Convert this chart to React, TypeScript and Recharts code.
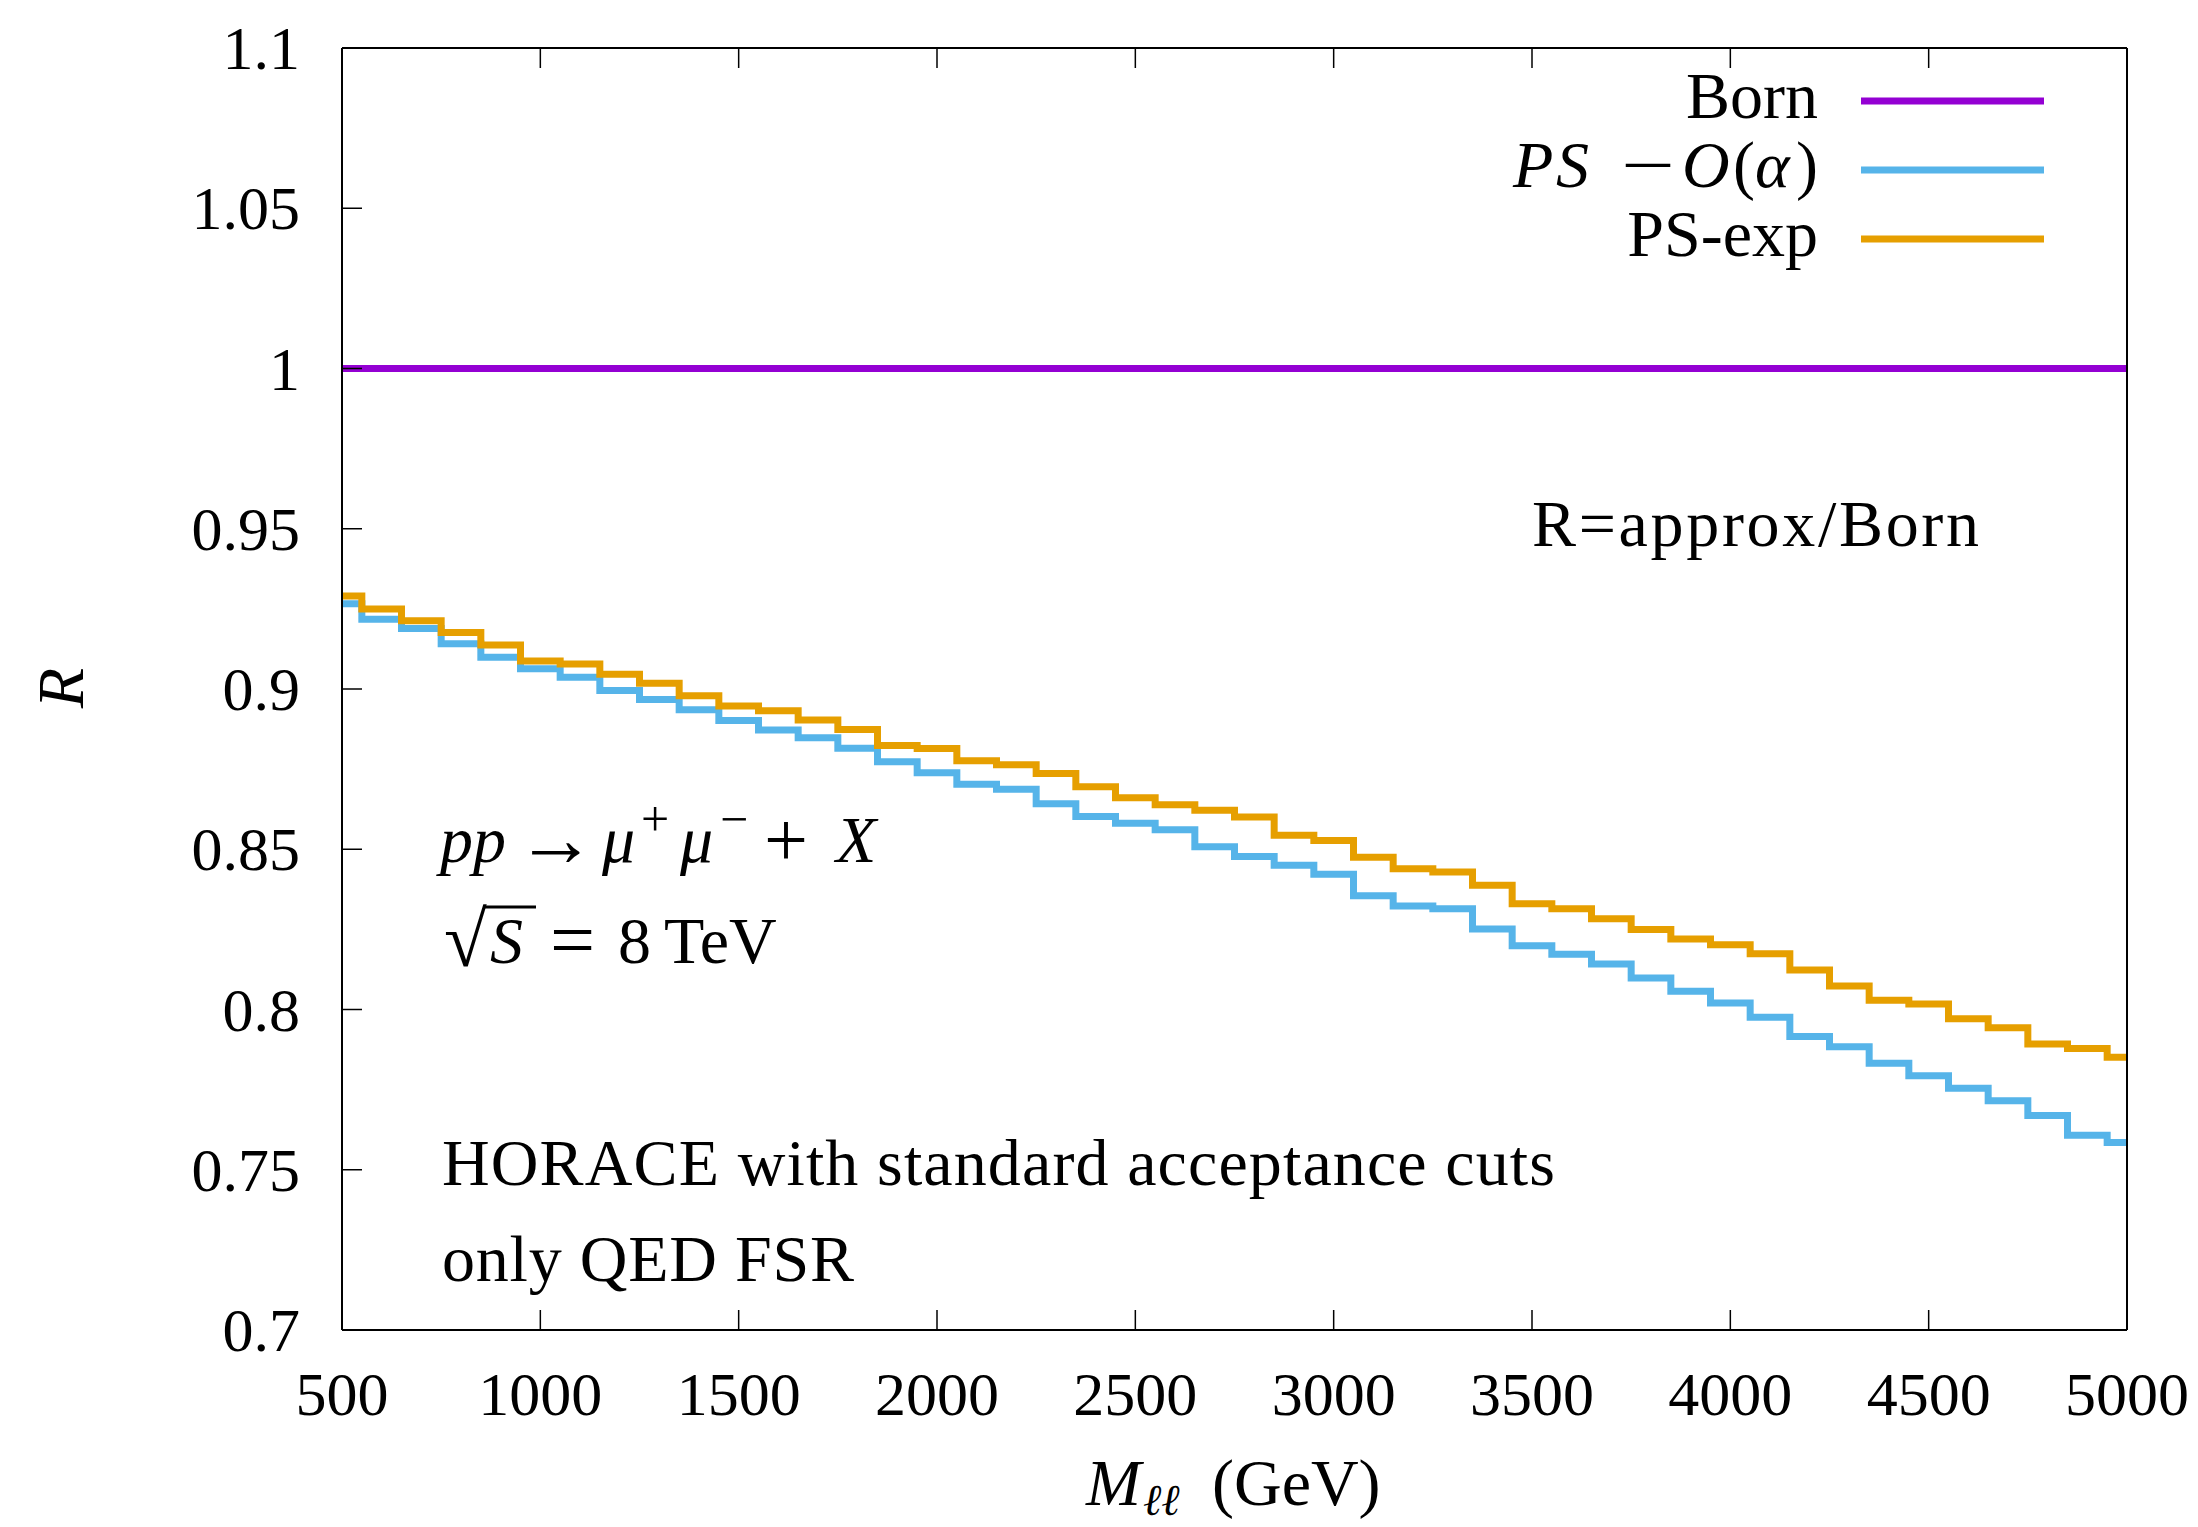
import React from "react";
import { LineChart, Line, XAxis, YAxis } from "recharts";

// invariant-mass bins (GeV), one point per bin centre
const masses = [
  500, 600, 700, 800, 900, 1000, 1100, 1200, 1300, 1400, 1500, 1600, 1700, 1800, 1900, 2000,
  2100, 2200, 2300, 2400, 2500, 2600, 2700, 2800, 2900, 3000, 3100, 3200, 3300, 3400, 3500,
  3600, 3700, 3800, 3900, 4000, 4100, 4200, 4300, 4400, 4500, 4600, 4700, 4800, 4900, 5000,
];

// R = approx/Born, PS - O(alpha)
const psAlpha = [
  0.9266, 0.9218, 0.9189, 0.9141, 0.9099, 0.9063, 0.9037, 0.8995, 0.8967, 0.8935, 0.8902,
  0.8872, 0.8848, 0.8815, 0.8773, 0.8739, 0.8703, 0.8687, 0.8642, 0.8602, 0.8581, 0.8561,
  0.8508, 0.8477, 0.845, 0.8422, 0.8355, 0.8323, 0.8314, 0.8251, 0.8199, 0.8172, 0.8142,
  0.8098, 0.8057, 0.802, 0.7976, 0.7916, 0.7884, 0.7832, 0.7793, 0.7754, 0.7715, 0.7669,
  0.7608, 0.7585,
];

// R = approx/Born, PS-exp
const psExp = [
  0.929, 0.925, 0.9213, 0.9176, 0.9137, 0.9087, 0.9078, 0.9046, 0.9018, 0.8979, 0.8947,
  0.8932, 0.8903, 0.8874, 0.8824, 0.8814, 0.8776, 0.8764, 0.8736, 0.8695, 0.8661, 0.8639,
  0.8622, 0.8601, 0.8544, 0.8527, 0.8475, 0.8439, 0.8429, 0.8388, 0.833, 0.8314, 0.8283,
  0.825, 0.822, 0.8202, 0.8174, 0.8123, 0.8073, 0.8029, 0.8017, 0.7971, 0.7943, 0.7892,
  0.7878, 0.7851,
];

const bornMass = [500, 5000];
const bornR = [1, 1];

const xTicks = [500, 1000, 1500, 2000, 2500, 3000, 3500, 4000, 4500, 5000];
const yTicks = [0.7, 0.75, 0.8, 0.85, 0.9, 0.95, 1, 1.05, 1.1];

const COLORS = { born: "#9400D3", psAlpha: "#56B4E9", psExp: "#E69F00" };
const FONT = "'Liberation Serif', 'Times New Roman', serif";
const FS = 62; // tick labels
const TS = 66; // annotations
const TICK = 20;

const data = masses.map((m, i) => ({ m, psAlpha: psAlpha[i], psExp: psExp[i] }));
const bornData = bornMass.map((m, i) => ({ m, born: bornR[i] }));

const LeftTick = (p: any) => (
  <g>
    <line x1={p.x} y1={p.y} x2={p.x + TICK} y2={p.y} stroke="#000" strokeWidth={1.5} />
    <text x={p.x - 42} y={p.y + 21} textAnchor="end" fontSize={FS} fontFamily={FONT} fill="#000">
      {String(p.payload.value)}
    </text>
  </g>
);
const RightTick = (p: any) => (
  <line x1={p.x - TICK} y1={p.y} x2={p.x} y2={p.y} stroke="#000" strokeWidth={1.5} />
);
const BottomTick = (p: any) => (
  <g>
    <line x1={p.x} y1={p.y} x2={p.x} y2={p.y - TICK} stroke="#000" strokeWidth={1.5} />
    <text x={p.x} y={p.y + 85} textAnchor="middle" fontSize={FS} fontFamily={FONT} fill="#000">
      {String(p.payload.value)}
    </text>
  </g>
);
const TopTick = (p: any) => (
  <line x1={p.x} y1={p.y} x2={p.x} y2={p.y + TICK} stroke="#000" strokeWidth={1.5} />
);

const legendItems = [
  { y: 101, color: COLORS.born },
  { y: 170, color: COLORS.psAlpha },
  { y: 239, color: COLORS.psExp },
];

export default function App() {
  const axisLine = { stroke: "#000", strokeWidth: 2 };
  return (
    <div style={{ position: "absolute", left: 0, top: 0, width: 2198, height: 1527, background: "#fff" }}>
      <LineChart width={2198} height={1527} data={data} margin={{ top: 18, right: 11, bottom: 137, left: 282 }}>
        <XAxis dataKey="m" type="number" domain={[500, 5000]} ticks={xTicks} interval={0} height={60}
          tickSize={0} tickMargin={0} tickLine={false} axisLine={axisLine} tick={BottomTick} allowDataOverflow />
        <XAxis xAxisId="top" orientation="top" dataKey="m" type="number" domain={[500, 5000]} ticks={xTicks}
          interval={0} height={30} tickSize={0} tickMargin={0} tickLine={false} axisLine={axisLine} tick={TopTick} />
        <YAxis type="number" domain={[0.7, 1.1]} ticks={yTicks} interval={0} width={60}
          tickSize={0} tickMargin={0} tickLine={false} axisLine={axisLine} tick={LeftTick} allowDataOverflow />
        <YAxis yAxisId="right" orientation="right" type="number" domain={[0.7, 1.1]} ticks={yTicks}
          interval={0} width={60} tickSize={0} tickMargin={0} tickLine={false} axisLine={axisLine} tick={RightTick} />
        <Line data={bornData} dataKey="born" type="linear" stroke={COLORS.born} strokeWidth={7}
          dot={false} activeDot={false} isAnimationActive={false} />
        <Line dataKey="psAlpha" type="step" stroke={COLORS.psAlpha} strokeWidth={7}
          dot={false} activeDot={false} isAnimationActive={false} />
        <Line dataKey="psExp" type="step" stroke={COLORS.psExp} strokeWidth={7}
          dot={false} activeDot={false} isAnimationActive={false} />
      </LineChart>

      <svg width={2198} height={1527} style={{ position: "absolute", left: 0, top: 0, pointerEvents: "none" }}
        fontFamily={FONT} fontSize={TS} fill="#000">
        {/* legend */}
        {legendItems.map((it) => (
          <line key={it.y} x1={1861} x2={2044} y1={it.y} y2={it.y} stroke={it.color} strokeWidth={7} />
        ))}
        <text x={1818} y={118} textAnchor="end">Born</text>
        <text y={187}>
          <tspan x={1513} fontStyle="italic">P</tspan>
          <tspan x={1556} fontStyle="italic">S</tspan>
          <tspan x={1682} fontStyle="italic">O</tspan>
          <tspan x={1733}>(</tspan>
          <tspan x={1755} fontStyle="italic">α</tspan>
          <tspan x={1796}>)</tspan>
        </text>
        <text transform="translate(1621,187) scale(1.45,1)">−</text>
        <text x={1818} y={256} textAnchor="end">PS-exp</text>

        <text x={1532} y={546} textLength={447} lengthAdjust="spacing">R=approx/Born</text>

        <text y={862}>
          <tspan x={440} fontStyle="italic">pp</tspan>
          <tspan x={516} y={866} fontSize={80}>→</tspan>
          <tspan x={602} y={862} fontStyle="italic">μ</tspan>
          <tspan x={641} y={836} fontSize={50}>+</tspan>
          <tspan x={680} y={862} fontStyle="italic">μ</tspan>
          <tspan x={720} y={836} fontSize={50}>−</tspan>
          <tspan x={764} y={866} fontSize={78}>+</tspan>
          <tspan x={836} y={862} fontStyle="italic">X</tspan>
        </text>
        <text y={963}>
          <tspan x={444} y={966} fontSize={78}>√</tspan>
          <tspan x={490} y={963} fontStyle="italic">S</tspan>
          <tspan x={550} y={967} fontSize={80}>=</tspan>
          <tspan x={618} y={963}>8</tspan>
          <tspan x={664}>TeV</tspan>
        </text>
        <line x1={484} x2={536} y1={907} y2={907} stroke="#000" strokeWidth={3} />

        <text x={442} y={1185} textLength={1113} lengthAdjust="spacing">HORACE with standard acceptance cuts</text>
        <text x={442} y={1281} textLength={412} lengthAdjust="spacing">only QED FSR</text>

        {/* axis titles */}
        <text y={1505}>
          <tspan x={1086} fontStyle="italic">M</tspan>
          <tspan x={1143} y={1515} fontStyle="italic" fontSize={44}>ℓℓ</tspan>
          <tspan x={1212} y={1505}>(GeV)</tspan>
        </text>
        <text x={83} y={688} textAnchor="middle" fontStyle="italic" transform="rotate(-90, 83, 688)">R</text>
      </svg>
    </div>
  );
}
